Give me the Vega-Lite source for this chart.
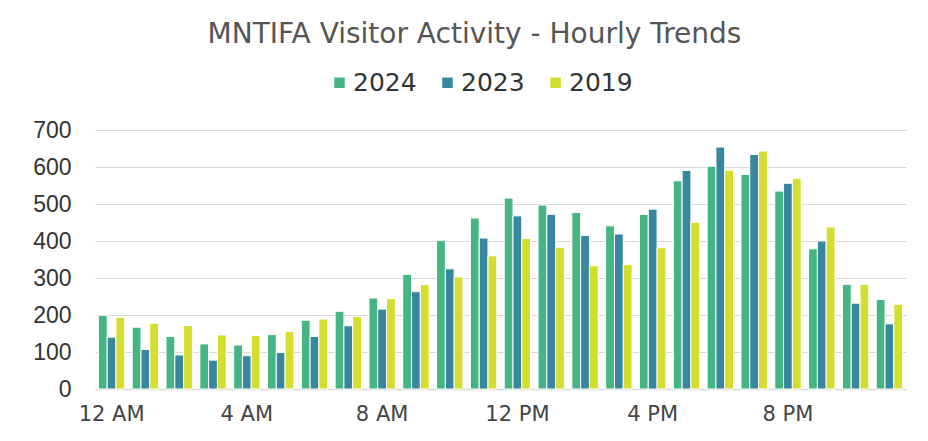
{
  "$schema": "https://vega.github.io/schema/vega-lite/v6.json",
  "width": 811,
  "height": 259,
  "autosize": "none",
  "padding": {"left": 95, "top": 130, "right": 22, "bottom": 52},
  "background": "white",
  "title": {
    "text": "MNTIFA Visitor Activity - Hourly Trends",
    "anchor": "middle",
    "dx": -26,
    "offset": 21,
    "fontSize": 28,
    "font": "DejaVu Sans",
    "fontWeight": "normal",
    "color": "#555555"
  },
  "datasets": {
    "visits": [
      {"hour": "12 AM", "year": "2024", "visitors": 199}, {"hour": "12 AM", "year": "2023", "visitors": 140}, {"hour": "12 AM", "year": "2019", "visitors": 194},
      {"hour": "1 AM", "year": "2024", "visitors": 167}, {"hour": "1 AM", "year": "2023", "visitors": 107}, {"hour": "1 AM", "year": "2019", "visitors": 178},
      {"hour": "2 AM", "year": "2024", "visitors": 142}, {"hour": "2 AM", "year": "2023", "visitors": 92}, {"hour": "2 AM", "year": "2019", "visitors": 172},
      {"hour": "3 AM", "year": "2024", "visitors": 122}, {"hour": "3 AM", "year": "2023", "visitors": 78}, {"hour": "3 AM", "year": "2019", "visitors": 146},
      {"hour": "4 AM", "year": "2024", "visitors": 119}, {"hour": "4 AM", "year": "2023", "visitors": 90}, {"hour": "4 AM", "year": "2019", "visitors": 145},
      {"hour": "5 AM", "year": "2024", "visitors": 147}, {"hour": "5 AM", "year": "2023", "visitors": 99}, {"hour": "5 AM", "year": "2019", "visitors": 155},
      {"hour": "6 AM", "year": "2024", "visitors": 186}, {"hour": "6 AM", "year": "2023", "visitors": 142}, {"hour": "6 AM", "year": "2019", "visitors": 189},
      {"hour": "7 AM", "year": "2024", "visitors": 210}, {"hour": "7 AM", "year": "2023", "visitors": 171}, {"hour": "7 AM", "year": "2019", "visitors": 196},
      {"hour": "8 AM", "year": "2024", "visitors": 246}, {"hour": "8 AM", "year": "2023", "visitors": 216}, {"hour": "8 AM", "year": "2019", "visitors": 244},
      {"hour": "9 AM", "year": "2024", "visitors": 310}, {"hour": "9 AM", "year": "2023", "visitors": 263}, {"hour": "9 AM", "year": "2019", "visitors": 282},
      {"hour": "10 AM", "year": "2024", "visitors": 402}, {"hour": "10 AM", "year": "2023", "visitors": 325}, {"hour": "10 AM", "year": "2019", "visitors": 303},
      {"hour": "11 AM", "year": "2024", "visitors": 462}, {"hour": "11 AM", "year": "2023", "visitors": 408}, {"hour": "11 AM", "year": "2019", "visitors": 360},
      {"hour": "12 PM", "year": "2024", "visitors": 516}, {"hour": "12 PM", "year": "2023", "visitors": 468}, {"hour": "12 PM", "year": "2019", "visitors": 407},
      {"hour": "1 PM", "year": "2024", "visitors": 497}, {"hour": "1 PM", "year": "2023", "visitors": 472}, {"hour": "1 PM", "year": "2019", "visitors": 383},
      {"hour": "2 PM", "year": "2024", "visitors": 477}, {"hour": "2 PM", "year": "2023", "visitors": 415}, {"hour": "2 PM", "year": "2019", "visitors": 333},
      {"hour": "3 PM", "year": "2024", "visitors": 441}, {"hour": "3 PM", "year": "2023", "visitors": 419}, {"hour": "3 PM", "year": "2019", "visitors": 336},
      {"hour": "4 PM", "year": "2024", "visitors": 472}, {"hour": "4 PM", "year": "2023", "visitors": 486}, {"hour": "4 PM", "year": "2019", "visitors": 382},
      {"hour": "5 PM", "year": "2024", "visitors": 563}, {"hour": "5 PM", "year": "2023", "visitors": 591}, {"hour": "5 PM", "year": "2019", "visitors": 451},
      {"hour": "6 PM", "year": "2024", "visitors": 602}, {"hour": "6 PM", "year": "2023", "visitors": 654}, {"hour": "6 PM", "year": "2019", "visitors": 591},
      {"hour": "7 PM", "year": "2024", "visitors": 580}, {"hour": "7 PM", "year": "2023", "visitors": 634}, {"hour": "7 PM", "year": "2019", "visitors": 643},
      {"hour": "8 PM", "year": "2024", "visitors": 535}, {"hour": "8 PM", "year": "2023", "visitors": 556}, {"hour": "8 PM", "year": "2019", "visitors": 569},
      {"hour": "9 PM", "year": "2024", "visitors": 379}, {"hour": "9 PM", "year": "2023", "visitors": 400}, {"hour": "9 PM", "year": "2019", "visitors": 438},
      {"hour": "10 PM", "year": "2024", "visitors": 283}, {"hour": "10 PM", "year": "2023", "visitors": 232}, {"hour": "10 PM", "year": "2019", "visitors": 283},
      {"hour": "11 PM", "year": "2024", "visitors": 242}, {"hour": "11 PM", "year": "2023", "visitors": 176}, {"hour": "11 PM", "year": "2019", "visitors": 229}
    ]
  },
  "data": {"name": "visits"},
  "mark": {"type": "bar", "stroke": "white", "strokeWidth": 1},
  "encoding": {
    "x": {
      "field": "hour",
      "type": "nominal",
      "sort": null,
      "scale": {"paddingInner": 0.22, "paddingOuter": 0.1},
      "axis": {
        "title": null,
        "values": ["12 AM", "4 AM", "8 AM", "12 PM", "4 PM", "8 PM"],
        "labelAngle": 0,
        "labelFont": "DejaVu Sans",
        "labelFontSize": 21,
        "labelColor": "#444444",
        "labelPadding": 14,
        "ticks": false,
        "domain": true,
        "domainColor": "#d9d9d9",
        "domainWidth": 1.5
      }
    },
    "xOffset": {
      "field": "year",
      "type": "nominal",
      "sort": ["2024", "2023", "2019"],
      "scale": {"paddingInner": 0, "paddingOuter": 0}
    },
    "y": {
      "field": "visitors",
      "type": "quantitative",
      "scale": {"domain": [0, 700]},
      "axis": {
        "title": null,
        "values": [0, 100, 200, 300, 400, 500, 600, 700],
        "labelFont": "Liberation Sans",
        "labelFontSize": 23,
        "labelColor": "#333333",
        "labelPadding": 24,
        "ticks": false,
        "domain": false,
        "gridColor": "#d9d9d9",
        "gridWidth": 1.2
      }
    },
    "color": {
      "field": "year",
      "type": "nominal",
      "scale": {"domain": ["2024", "2023", "2019"], "range": ["#45b583", "#39879f", "#d4de30"]},
      "legend": {
        "title": null,
        "orient": "none",
        "direction": "horizontal",
        "legendX": 232,
        "legendY": -60,
        "symbolType": "square",
        "symbolSize": 110,
        "symbolStrokeWidth": 0,
        "labelFont": "DejaVu Sans",
        "labelFontSize": 25,
        "labelColor": "#333333",
        "labelOffset": 1,
        "columnPadding": 18
      }
    }
  },
  "config": {"view": {"stroke": null}}
}
